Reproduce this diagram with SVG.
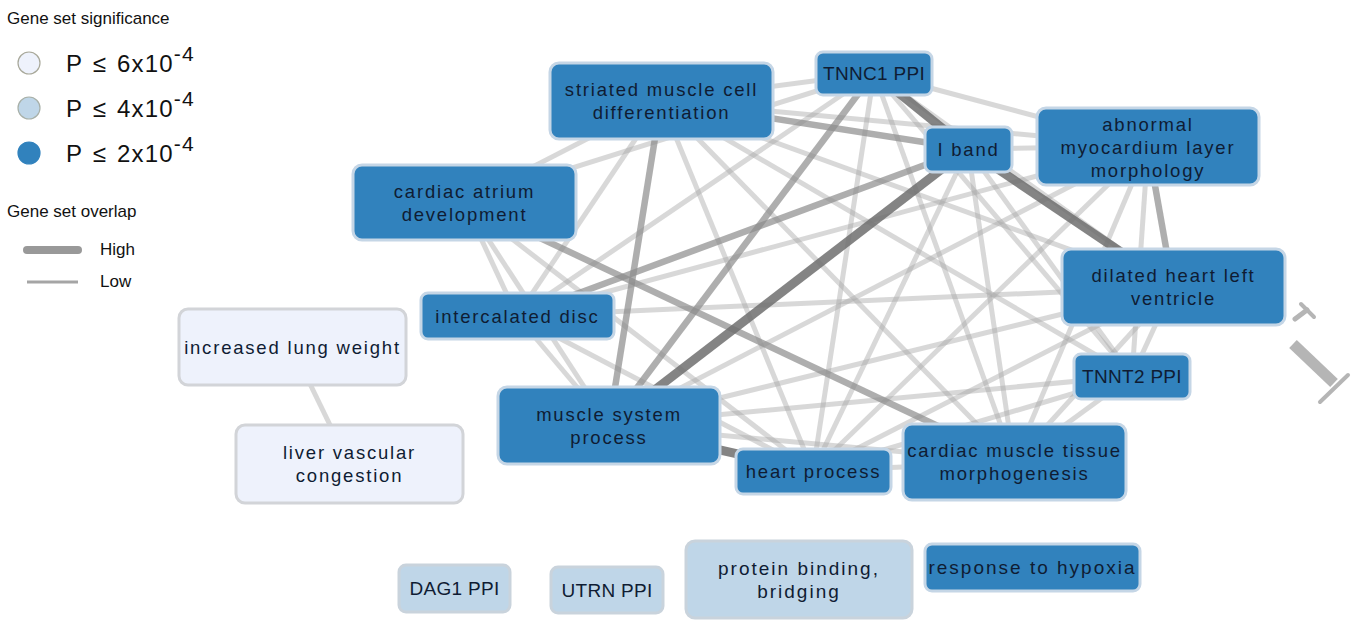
<svg xmlns="http://www.w3.org/2000/svg" width="1357" height="621" viewBox="0 0 1357 621">
<style>
  .lg { font-family: "Liberation Sans", Arial, sans-serif; fill: #111; }
  .node-d rect { fill: #3182bd; stroke: #c5d6e6; stroke-width: 3; }
  .node-m rect { fill: #bfd6e8; stroke: #c9d3dc; stroke-width: 3; }
  .node-l rect { fill: #eef2fc; stroke: #d2d4d8; stroke-width: 3; }
  .lbl { font-family: "Liberation Sans", Arial, sans-serif; font-size: 18.5px; letter-spacing: 1.8px; fill: #0f1c33; text-anchor: middle; }
  .cnd { font-family: "Liberation Sans", Arial, sans-serif; font-size: 19px; letter-spacing: 0.3px; fill: #0f1c33; text-anchor: middle; }
  .cnd.wide { letter-spacing: 2px; }
  .e-lt { stroke: #a8a8a8; stroke-opacity: 0.45; stroke-width: 5; fill: none; }
  .e-md { stroke: #8c8c8c; stroke-opacity: 0.7; stroke-width: 6.5; fill: none; }
  .e-hv { stroke: #6e6e6e; stroke-opacity: 0.85; stroke-width: 9; fill: none; }
</style>

<!-- Legend -->
<g id="legend">
  <text class="lg" x="7" y="24" font-size="17">Gene set significance</text>
  <circle cx="29" cy="63" r="11" fill="#eef2fc" stroke="#a8a89a" stroke-width="1.2"/>
  <circle cx="29" cy="108" r="11" fill="#bfd6e8" stroke="#a8b0a8" stroke-width="1.2"/>
  <circle cx="29" cy="153" r="11" fill="#3182bd" stroke="#3182bd" stroke-width="1.2"/>
  <text class="lg" x="66" y="72" font-size="24" letter-spacing="1.2" word-spacing="2">P ≤ 6x10<tspan dy="-11" font-size="21">-4</tspan></text>
  <text class="lg" x="66" y="117" font-size="24" letter-spacing="1.2" word-spacing="2">P ≤ 4x10<tspan dy="-11" font-size="21">-4</tspan></text>
  <text class="lg" x="66" y="162" font-size="24" letter-spacing="1.2" word-spacing="2">P ≤ 2x10<tspan dy="-11" font-size="21">-4</tspan></text>
  <text class="lg" x="7" y="217" font-size="17">Gene set overlap</text>
  <line x1="27" y1="250" x2="78" y2="250" stroke="#999" stroke-width="8" stroke-linecap="round"/>
  <line x1="27" y1="282" x2="78" y2="282" stroke="#a5a5a5" stroke-width="3"/>
  <text class="lg" x="100" y="255" font-size="17">High</text>
  <text class="lg" x="100" y="287" font-size="17">Low</text>
</g>

<!-- Connectors -->
<g id="connectors">
  <!-- light -->
  <line class="e-lt" x1="661" y1="101" x2="874" y2="73"/>
  <line class="e-lt" x1="661" y1="101" x2="464" y2="202"/>
  <line class="e-lt" x1="661" y1="101" x2="517" y2="316"/>
  <line class="e-lt" x1="661" y1="101" x2="813" y2="471"/>
  <line class="e-lt" x1="661" y1="101" x2="1014" y2="462"/>
  <line class="e-lt" x1="661" y1="101" x2="1148" y2="146"/>
  <line class="e-lt" x1="661" y1="101" x2="1173" y2="287"/>
  <line class="e-lt" x1="661" y1="101" x2="1132" y2="376"/>
  <line class="e-lt" x1="874" y1="73" x2="1148" y2="146"/>
  <line class="e-lt" x1="874" y1="73" x2="464" y2="202"/>
  <line class="e-lt" x1="874" y1="73" x2="517" y2="316"/>
  <line class="e-lt" x1="874" y1="73" x2="813" y2="471"/>
  <line class="e-lt" x1="874" y1="73" x2="1014" y2="462"/>
  <line class="e-lt" x1="874" y1="73" x2="1173" y2="287"/>
  <line class="e-lt" x1="874" y1="73" x2="1132" y2="376"/>
  <line class="e-lt" x1="968" y1="149" x2="1148" y2="146"/>
  <line class="e-lt" x1="968" y1="149" x2="813" y2="471"/>
  <line class="e-lt" x1="968" y1="149" x2="1014" y2="462"/>
  <line class="e-lt" x1="968" y1="149" x2="1132" y2="376"/>
  <line class="e-lt" x1="1148" y1="146" x2="609" y2="425"/>
  <line class="e-lt" x1="1148" y1="146" x2="813" y2="471"/>
  <line class="e-lt" x1="1148" y1="146" x2="1014" y2="462"/>
  <line class="e-lt" x1="1148" y1="146" x2="1132" y2="376"/>
  <line class="e-lt" x1="1148" y1="146" x2="517" y2="316"/>
  <line class="e-lt" x1="1173" y1="287" x2="517" y2="316"/>
  <line class="e-lt" x1="1173" y1="287" x2="609" y2="425"/>
  <line class="e-lt" x1="1173" y1="287" x2="813" y2="471"/>
  <line class="e-lt" x1="1173" y1="287" x2="1014" y2="462"/>
  <line class="e-lt" x1="1173" y1="287" x2="1132" y2="376"/>
  <line class="e-lt" x1="1132" y1="376" x2="609" y2="425"/>
  <line class="e-lt" x1="1132" y1="376" x2="813" y2="471"/>
  <line class="e-lt" x1="1132" y1="376" x2="1014" y2="462"/>
  <line class="e-lt" x1="464" y1="202" x2="517" y2="316"/>
  <line class="e-lt" x1="464" y1="202" x2="609" y2="425"/>
  <line class="e-lt" x1="464" y1="202" x2="813" y2="471"/>
  <line class="e-lt" x1="517" y1="316" x2="609" y2="425"/>
  <line class="e-lt" x1="517" y1="316" x2="813" y2="471"/>
  <line class="e-lt" x1="609" y1="425" x2="1014" y2="462"/>
  <line class="e-lt" x1="813" y1="471" x2="1014" y2="462"/>
  <line class="e-lt" x1="292" y1="347" x2="349" y2="464" stroke-opacity="0.6"/>
  <!-- medium -->
  <line class="e-md" x1="464" y1="202" x2="1014" y2="462"/>
  <line class="e-md" x1="661" y1="101" x2="968" y2="149"/>
  <line class="e-md" x1="661" y1="101" x2="609" y2="425"/>
  <line class="e-md" x1="874" y1="73" x2="609" y2="425"/>
  <line class="e-md" x1="968" y1="149" x2="517" y2="316"/>
  <line class="e-md" x1="1148" y1="146" x2="1173" y2="287"/>
  <!-- heavy -->
  <line class="e-hv" x1="968" y1="149" x2="609" y2="425"/>
  <line class="e-hv" x1="874" y1="73" x2="968" y2="149"/>
  <line class="e-hv" x1="968" y1="149" x2="1173" y2="287" stroke-width="7.5"/>
  <line class="e-hv" x1="609" y1="425" x2="813" y2="471"/>
</g>

<!-- Nodes -->
<g id="n-striated" class="node-d"><rect x="550" y="63" width="223" height="76" rx="9"/>
  <text class="lbl" x="661.5" y="96">striated muscle cell</text><text class="lbl" x="661.5" y="119">differentiation</text></g>
<g id="n-tnnc1" class="node-d"><rect x="816" y="52" width="116" height="43" rx="7"/>
  <text class="cnd" x="874" y="80">TNNC1 PPI</text></g>
<g id="n-iband" class="node-d"><rect x="925" y="127" width="87" height="45" rx="7"/>
  <text class="lbl" x="968.5" y="156">I band</text></g>
<g id="n-abnormal" class="node-d"><rect x="1037" y="108" width="222" height="77" rx="9"/>
  <text class="lbl" x="1148" y="131">abnormal</text><text class="lbl" x="1148" y="154">myocardium layer</text><text class="lbl" x="1148" y="177">morphology</text></g>
<g id="n-atrium" class="node-d"><rect x="353" y="165" width="223" height="75" rx="9"/>
  <text class="lbl" x="464.5" y="198">cardiac atrium</text><text class="lbl" x="464.5" y="221">development</text></g>
<g id="n-dilated" class="node-d"><rect x="1062" y="249" width="223" height="76" rx="9"/>
  <text class="lbl" x="1173.5" y="282">dilated heart left</text><text class="lbl" x="1173.5" y="305">ventricle</text></g>
<g id="n-intercalated" class="node-d"><rect x="421" y="293" width="193" height="46" rx="7"/>
  <text class="lbl" x="517.5" y="322.5">intercalated disc</text></g>
<g id="n-lung" class="node-l"><rect x="179" y="309" width="227" height="76" rx="9"/>
  <text class="lbl" x="292.5" y="354">increased lung weight</text></g>
<g id="n-tnnt2" class="node-d"><rect x="1074" y="354" width="116" height="45" rx="7"/>
  <text class="cnd" x="1132" y="383">TNNT2 PPI</text></g>
<g id="n-musclesys" class="node-d"><rect x="498" y="387" width="222" height="77" rx="9"/>
  <text class="lbl" x="609" y="421">muscle system</text><text class="lbl" x="609" y="444">process</text></g>
<g id="n-liver" class="node-l"><rect x="236" y="425" width="227" height="78" rx="9"/>
  <text class="lbl" x="349.5" y="459">liver vascular</text><text class="lbl" x="349.5" y="482">congestion</text></g>
<g id="n-heartproc" class="node-d"><rect x="736" y="449" width="155" height="45" rx="7"/>
  <text class="lbl" x="813.5" y="478">heart process</text></g>
<g id="n-cardmuscle" class="node-d"><rect x="903" y="424" width="223" height="76" rx="9"/>
  <text class="lbl" x="1014.5" y="457">cardiac muscle tissue</text><text class="lbl" x="1014.5" y="480">morphogenesis</text></g>
<g id="n-dag1" class="node-m"><rect x="399" y="565" width="111" height="47" rx="7"/>
  <text class="cnd" x="454.5" y="595">DAG1 PPI</text></g>
<g id="n-utrn" class="node-m"><rect x="551" y="567" width="112" height="46" rx="7"/>
  <text class="cnd" x="607" y="597">UTRN PPI</text></g>
<g id="n-protein" class="node-m"><rect x="686" y="541" width="226" height="77" rx="9"/>
  <text class="cnd wide" x="799" y="575">protein binding,</text><text class="cnd wide" x="799" y="598">bridging</text></g>
<g id="n-hypoxia" class="node-d"><rect x="925" y="544" width="215" height="47" rx="7"/>
  <text class="cnd wide" x="1032.5" y="574">response to hypoxia</text></g>

<!-- stray marks at right edge -->
<g id="marks" stroke="#b5b5b5" fill="none" stroke-linecap="round">
  <line x1="1301" y1="304" x2="1314" y2="317" stroke-width="4"/>
  <line x1="1307" y1="310" x2="1295" y2="319" stroke-width="5"/>
  <line x1="1293" y1="344" x2="1334" y2="383" stroke-width="11" stroke-linecap="butt"/>
  <line x1="1348" y1="375" x2="1320" y2="402" stroke-width="4"/>
</g>
</svg>
